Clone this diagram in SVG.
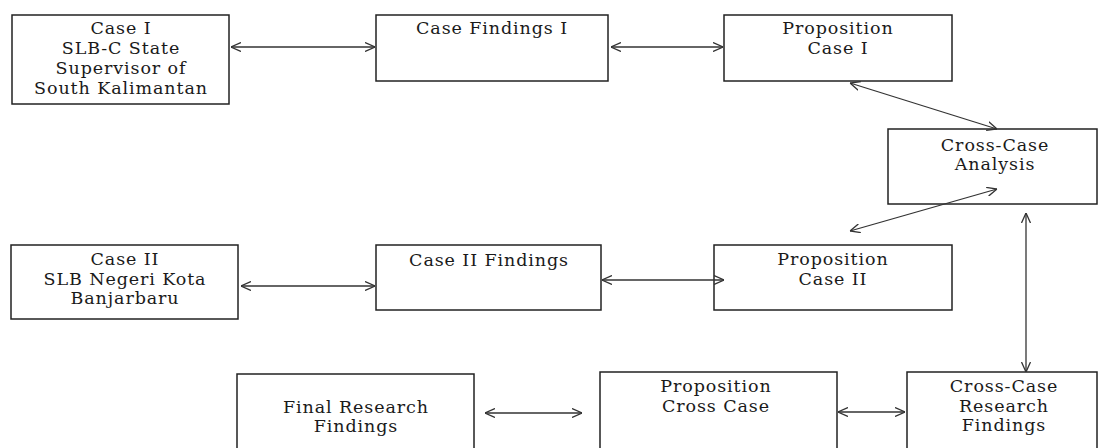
<svg xmlns="http://www.w3.org/2000/svg" width="1098" height="448" viewBox="0 0 1098 448">
<style>
.box{fill:#fff;stroke:#222;stroke-width:1.5}
.t{font-family:"DejaVu Serif","Liberation Serif",serif;font-size:17.5px;letter-spacing:0.9px;fill:#1a1a1a;text-anchor:middle}
.c{fill:none;stroke:#333;stroke-width:1.3}
</style>
<defs>
<marker id="ah" viewBox="0 0 10 10" refX="10" refY="5" markerWidth="10" markerHeight="10" markerUnits="userSpaceOnUse" orient="auto-start-reverse">
<path d="M0,0.5 L10,5 L0,9.5" fill="none" stroke="#333" stroke-width="1.3"/>
</marker>
</defs>
<rect width="1098" height="448" fill="#fff"/>
<g id="case1">
<rect class="box" x="12" y="15" width="217" height="89"/>
<text class="t" x="121" y="34">Case I</text>
<text class="t" x="121" y="54">SLB-C State</text>
<text class="t" x="121" y="74">Supervisor of</text>
<text class="t" x="121" y="94">South Kalimantan</text>
</g>
<g id="findings1">
<rect class="box" x="376" y="15" width="232" height="66"/>
<text class="t" x="492" y="34">Case Findings I</text>
</g>
<g id="prop1">
<rect class="box" x="724" y="15" width="228" height="66"/>
<text class="t" x="838" y="34">Proposition</text>
<text class="t" x="838" y="54">Case I</text>
</g>
<g id="crossanalysis">
<rect class="box" x="888" y="129" width="209" height="75"/>
<text class="t" x="995" y="151">Cross-Case</text>
<text class="t" x="995" y="170">Analysis</text>
</g>
<g id="case2">
<rect class="box" x="11" y="245" width="227" height="74"/>
<text class="t" x="125" y="265">Case II</text>
<text class="t" x="125" y="285">SLB Negeri Kota</text>
<text class="t" x="125" y="304">Banjarbaru</text>
</g>
<g id="findings2">
<rect class="box" x="376" y="245" width="225" height="65"/>
<text class="t" x="489" y="266">Case II Findings</text>
</g>
<g id="prop2">
<rect class="box" x="714" y="245" width="238" height="65"/>
<text class="t" x="833" y="265">Proposition</text>
<text class="t" x="833" y="285">Case II</text>
</g>
<g id="final">
<rect class="box" x="237" y="374" width="237" height="90"/>
<text class="t" x="356" y="413">Final Research</text>
<text class="t" x="356" y="432">Findings</text>
</g>
<g id="propcross">
<rect class="box" x="600" y="372" width="237" height="90"/>
<text class="t" x="716" y="392">Proposition</text>
<text class="t" x="716" y="412">Cross Case</text>
</g>
<g id="crossresearch">
<rect class="box" x="907" y="372" width="190" height="90"/>
<text class="t" x="1004" y="392">Cross-Case</text>
<text class="t" x="1004" y="412">Research</text>
<text class="t" x="1004" y="431">Findings</text>
</g>
<g id="connectors">
<line class="c" x1="231" y1="47" x2="375" y2="47" marker-start="url(#ah)" marker-end="url(#ah)"/>
<line class="c" x1="611" y1="47" x2="723" y2="47" marker-start="url(#ah)" marker-end="url(#ah)"/>
<line class="c" x1="241" y1="286" x2="375" y2="286" marker-start="url(#ah)" marker-end="url(#ah)"/>
<line class="c" x1="602" y1="280" x2="724" y2="280" marker-start="url(#ah)" marker-end="url(#ah)"/>
<line class="c" x1="850" y1="83" x2="997" y2="129" marker-start="url(#ah)" marker-end="url(#ah)"/>
<line class="c" x1="850" y1="231" x2="997" y2="189" marker-start="url(#ah)" marker-end="url(#ah)"/>
<line class="c" x1="1026" y1="213" x2="1026" y2="372" marker-start="url(#ah)" marker-end="url(#ah)"/>
<line class="c" x1="485" y1="413" x2="582" y2="413" marker-start="url(#ah)" marker-end="url(#ah)"/>
<line class="c" x1="838" y1="412" x2="905" y2="412" marker-start="url(#ah)" marker-end="url(#ah)"/>
</g>
</svg>
